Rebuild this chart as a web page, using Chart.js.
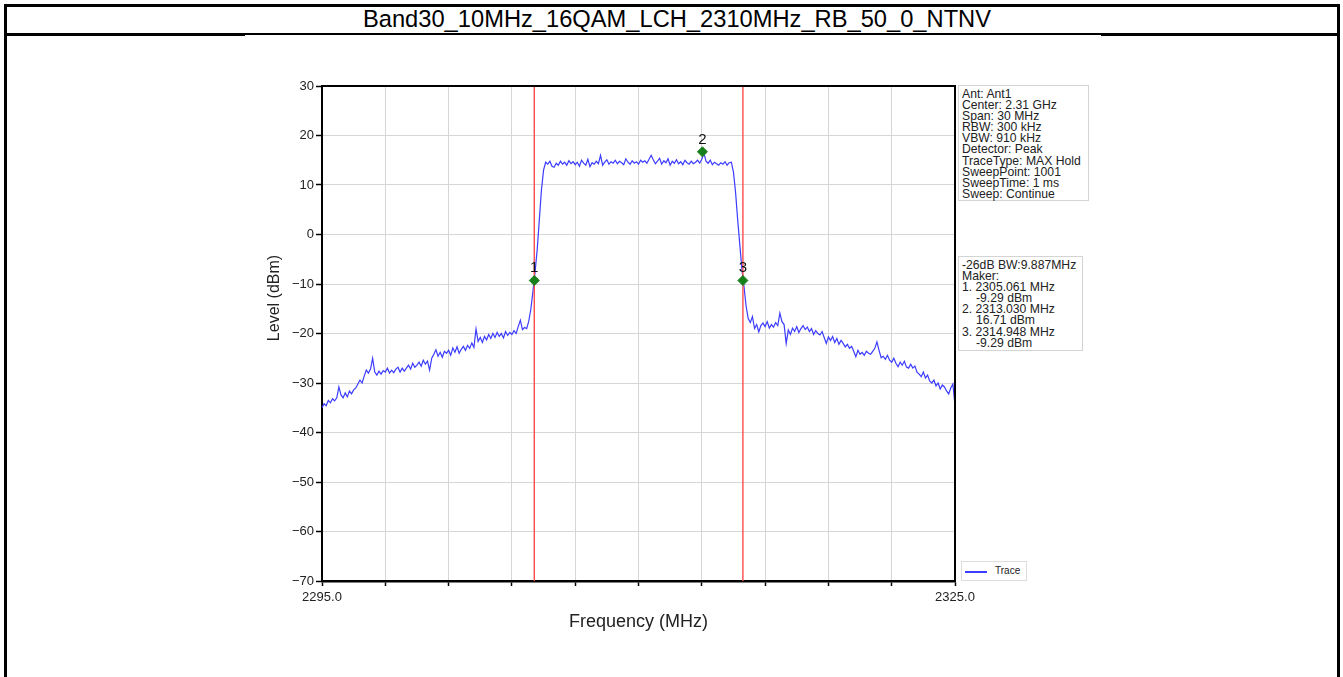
<!DOCTYPE html>
<html>
<head>
<meta charset="utf-8">
<script src="https://cdn.jsdelivr.net/npm/chart.js@4.4.1/dist/chart.umd.min.js"></script>
<style>
  body { margin: 0; background: #fff; font-family: "Liberation Sans", Arial, sans-serif; }
  #page { position: relative; width: 1343px; height: 677px; overflow: hidden; background: #fff; }
  .rule { position: absolute; background: #000; }
  #title { position: absolute; left: 12px; top: 6px; width: 1330px; height: 27px; line-height: 27px;
           text-align: center; font-size: 23.7px; color: #000; }
  #sheet { position: absolute; left: 245px; top: 35px; width: 856px; height: 642px; background: #fff; }
  #plot { position: absolute; left: 245px; top: 40px; width: 860px; height: 620px; }
  .info { position: absolute; border: 1px solid #d4d4d4; background: #fff; color: #222;
          font-size: 12.2px; line-height: 11.1px; padding: 3px 3px 2px 3px; white-space: nowrap; }
  .info .ind { padding-left: 14px; }
  #legend { position: absolute; left: 961px; top: 561px; width: 64px; height: 18px; border: 1px solid #ddd;
            background: #fff; font-size: 10px; color: #222; }
  #legend .swatch { position: absolute; left: 3px; top: 9px; width: 22px; height: 1.5px; background: #3c3cff; }
  #legend .txt { position: absolute; left: 33px; top: 3px; }
</style>
</head>
<body>
<div id="page">
  <div class="rule" style="left:4px;top:4px;width:1336px;height:3px"></div>
  <div class="rule" style="left:4px;top:33px;width:1336px;height:3px"></div>
  <div class="rule" style="left:4px;top:4px;width:3px;height:673px"></div>
  <div class="rule" style="left:1337px;top:4px;width:3px;height:673px"></div>
  <div id="title">Band30_10MHz_16QAM_LCH_2310MHz_RB_50_0_NTNV</div>
  <div id="sheet"></div>
  <div id="plot"><canvas id="spectrum"></canvas></div>

  <div class="info" style="left:958px;top:85px;width:123px;height:109px">
    Ant: Ant1<br>Center: 2.31 GHz<br>Span: 30 MHz<br>RBW: 300 kHz<br>VBW: 910 kHz<br>Detector: Peak<br>TraceType: MAX Hold<br>SweepPoint: 1001<br>SweepTime: 1 ms<br>Sweep: Continue
  </div>
  <div class="info" style="left:958px;top:256px;width:117px;height:88px">
    -26dB BW:9.887MHz<br>Maker:<br>1. 2305.061 MHz<br><span class="ind">-9.29 dBm</span><br>2. 2313.030 MHz<br><span class="ind">16.71 dBm</span><br>3. 2314.948 MHz<br><span class="ind">-9.29 dBm</span>
  </div>
  <div id="legend"><div class="swatch"></div><div class="txt">Trace</div></div>
</div>

<script>
// sweep: 2295 .. 2325 MHz, one reading every 0.1 MHz
const startMHz = 2295;
const stepMHz = 0.1;
const traceLevels = [
  -35.0, -34.2, -34.6, -33.5, -34.0, -33.2, -33.6, -33.0, -30.8, -32.4,
  -33.0, -32.0, -32.8, -31.6, -32.2, -31.4, -31.0, -30.2, -29.4, -30.0,
  -28.6, -27.4, -28.0, -27.2, -25.0, -27.8, -28.4, -27.6, -28.2, -27.5,
  -27.8, -27.0, -28.0, -27.4, -27.9, -27.2, -26.8, -27.8, -27.0, -27.6,
  -27.0, -26.4, -27.2, -26.0, -26.8, -26.4, -25.8, -26.6, -25.4, -26.2,
  -25.6, -27.4, -25.0, -24.2, -23.3, -24.6, -23.8, -24.8, -23.6, -24.0,
  -23.4, -24.4, -22.9, -23.8, -22.7, -24.0, -23.2, -22.6, -23.4, -22.4,
  -23.0, -21.9, -22.8, -19.1, -21.6, -20.8, -21.8, -20.6, -21.3, -20.2,
  -21.0, -20.0, -20.8, -19.8, -20.6, -20.0, -20.9, -19.6, -20.4, -19.8,
  -20.2, -19.4, -20.0, -18.6, -17.3, -19.2, -18.8, -19.0, -17.5, -15.0,
  -11.4, -7.5, -3.0, 3.0, 9.0, 13.0, 14.6, 14.2, 14.8, 13.8,
  13.6, 14.4, 14.0, 14.8, 14.2, 14.6, 14.0, 14.9, 14.3, 14.7,
  14.1, 14.6, 13.8, 15.0, 14.4, 14.0, 15.2, 13.7, 14.5, 14.2,
  14.8, 14.3, 16.0, 14.0, 14.6, 15.1, 14.2, 14.7, 14.4, 15.0,
  14.3, 14.8, 14.5, 14.1, 15.3, 14.6, 14.2, 14.9, 14.4, 14.7,
  14.2, 15.0, 14.6, 14.9, 14.4, 15.2, 16.0, 15.1, 14.3, 14.8,
  15.4, 14.2, 14.9, 14.5, 15.3, 14.0, 14.8, 14.4, 15.1, 14.3,
  14.7, 14.1, 15.0, 14.5, 14.2, 14.8, 14.3, 14.6, 15.0, 14.4,
  15.2, 16.4, 14.8, 14.4, 15.0, 14.1, 14.6, 14.3, 14.0, 14.5,
  14.2, 14.7, 14.0, 14.5, 14.6, 12.6, 8.5, 3.0, -2.0, -7.0,
  -10.5, -14.5, -17.0, -17.8, -16.6, -19.0, -18.2, -19.7, -18.4, -17.9,
  -18.6, -17.6, -18.9, -18.2, -18.7, -17.8, -18.4, -15.9, -17.6, -18.2,
  -22.0, -19.3, -20.2, -18.9, -19.6, -18.6, -19.8, -19.0, -18.4, -19.2,
  -18.7, -19.6, -19.0, -20.2, -19.4, -20.0, -20.3, -19.6, -20.8, -22.0,
  -20.7, -21.4, -20.6, -21.8, -21.0, -22.2, -21.4, -22.0, -22.7, -22.2,
  -23.0, -22.6, -23.6, -24.7, -23.4, -24.2, -23.8, -24.4, -23.6, -24.0,
  -24.2, -23.6, -23.0, -21.7, -23.4, -24.9, -24.6, -25.2, -24.4, -25.4,
  -25.8, -25.0, -26.0, -26.7, -25.8, -26.4, -25.6, -26.8, -27.0, -26.2,
  -27.0, -26.6, -27.8, -28.2, -28.7, -27.8, -29.0, -28.4, -29.6, -30.0,
  -29.4, -30.6, -30.0, -31.2, -30.4, -30.8, -31.6, -32.2, -31.0, -30.2,
  -34.6
];

const markerNames = ['1', '2', '3'];
const markerFreqs = [2305.061, 2313.030, 2314.948];
const markerLevels = [-9.29, 16.71, -9.29];

// red limit lines sit on the -26 dB markers
const limitFreqs = [2305.061, 2314.948];

const freqMin = 2295, freqMax = 2325, freqStep = 3;
const levelMin = -70, levelMax = 30, levelStep = 10;
const labeledFreqs = [2295, 2325];

const tracePoints = traceLevels.map((v, i) => ({ x: +(startMHz + i * stepMHz).toFixed(1), y: v }));
const markerPoints = markerFreqs.map((f, i) => ({ x: f, y: markerLevels[i] }));

const font = '"Liberation Sans", Arial, sans-serif';

const datasets = [
  {
    label: 'Trace', data: tracePoints, borderColor: '#3c3cff', borderWidth: 1.2,
    pointRadius: 0, tension: 0, order: 3
  },
  {
    label: 'Markers', data: markerPoints, showLine: false, pointStyle: 'rectRot',
    pointRadius: 5, backgroundColor: '#17801a', borderColor: '#17801a', order: 1
  }
];
limitFreqs.forEach(f => {
  datasets.push({
    label: 'limit', data: [{ x: f, y: levelMin }, { x: f, y: levelMax }],
    borderColor: '#ff4a4a', borderWidth: 1.4, pointRadius: 0, order: 2
  });
});

// top/right spines, marker numbers and the level axis title
const framePlugin = {
  id: 'frame',
  afterDatasetsDraw(chart) {
    const { ctx, chartArea: a } = chart;
    ctx.save();
    ctx.strokeStyle = '#000';
    ctx.lineWidth = 2;
    ctx.beginPath();
    ctx.moveTo(a.left, a.top);
    ctx.lineTo(a.right, a.top);
    ctx.lineTo(a.right, a.bottom);
    ctx.stroke();

    const meta = chart.getDatasetMeta(1);
    ctx.fillStyle = '#111';
    ctx.font = '15px ' + font;
    ctx.textAlign = 'center';
    ctx.textBaseline = 'alphabetic';
    meta.data.forEach((pt, i) => {
      ctx.fillText(markerNames[i], pt.x, pt.y - 8);
    });

    ctx.translate(30, 258);
    ctx.rotate(-Math.PI / 2);
    ctx.font = '16px ' + font;
    ctx.fillStyle = '#222';
    ctx.textBaseline = 'middle';
    ctx.fillText('Level (dBm)', 0, 0);
    ctx.restore();
  }
};

new Chart(document.getElementById('spectrum'), {
  type: 'line',
  data: { datasets },
  plugins: [framePlugin],
  options: {
    responsive: true,
    maintainAspectRatio: false,
    animation: false,
    layout: { padding: { left: 0, top: 46, right: 150, bottom: 0 } },
    plugins: { legend: { display: false }, tooltip: { enabled: false } },
    scales: {
      x: {
        type: 'linear', min: freqMin, max: freqMax,
        afterFit: s => { s.height = 79; },
        ticks: {
          stepSize: freqStep, autoSkip: false, maxRotation: 0, padding: 4,
          color: '#222', font: { family: font, size: 13 },
          callback: v => labeledFreqs.includes(v) ? v.toFixed(1) : ''
        },
        grid: { color: '#d6d6d6', lineWidth: 1, tickColor: '#000', tickLength: 5, tickWidth: 1.5 },
        border: { display: true, color: '#000', width: 2.5 },
        title: { display: true, text: 'Frequency (MHz)', color: '#222',
                 font: { family: font, size: 18 }, padding: { bottom: 27 } }
      },
      y: {
        min: levelMin, max: levelMax,
        afterFit: s => { s.width = 77; },
        ticks: {
          stepSize: levelStep, padding: 2, color: '#222', font: { family: font, size: 13 },
          callback: v => v < 0 ? '\u2212' + Math.abs(v) : String(v)
        },
        grid: { color: '#d6d6d6', lineWidth: 1, tickColor: '#000', tickLength: 6, tickWidth: 1.5 },
        border: { display: true, color: '#000', width: 2 },
        title: { display: false }
      }
    }
  }
});
</script>
</body>
</html>
